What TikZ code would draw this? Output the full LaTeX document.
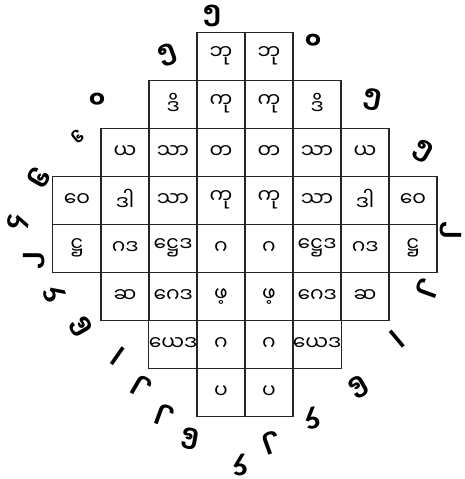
\documentclass[tikz,border=0pt]{standalone}
\usepackage{fontspec}
\newfontfamily\mya[Script=Myanmar]{Noto Sans Myanmar UI}
\begin{document}
\begin{tikzpicture}[
cell/.style={draw=black!85, line width=0.6pt, rectangle, minimum size=1cm, inner sep=0pt, font=\mya\fontsize{12}{14}\selectfont},
ring/.style={inner sep=0pt, font=\mya\bfseries\fontsize{14}{16}\selectfont},
stroke/.style={inner sep=0pt, scale=1.8, font=\mya\fontsize{14}{16}\selectfont}
]
\useasboundingbox (0,0) rectangle (9.667,-9.979);
% rows of the square, row r starts at column s
\foreach \txt [count=\i from 3] in {ဘု,ဘု}
  \node[cell] (r0c\i) at (\i+1.604,-1.167) {\txt};
\foreach \txt [count=\i from 2] in {ဒိ,ကု,ကု,ဒိ}
  \node[cell] (r1c\i) at (\i+1.604,-2.167) {\txt};
\foreach \txt [count=\i from 1] in {ယ,သာ,တ,တ,သာ,ယ}
  \node[cell] (r2c\i) at (\i+1.604,-3.167) {\txt};
\foreach \txt [count=\i from 0] in {ဝေ,ဒါ,သာ,ကု,ကု,သာ,ဒါ,ဝေ}
  \node[cell] (r3c\i) at (\i+1.604,-4.167) {\txt};
\foreach \txt [count=\i from 0] in {ဋ္ဌ,ဂဒ,ဋ္ဌေဒ,ဂ,ဂ,ဋ္ဌေဒ,ဂဒ,ဋ္ဌ}
  \node[cell] (r4c\i) at (\i+1.604,-5.167) {\txt};
\foreach \txt [count=\i from 1] in {ဆ,ဂေဒ,ဖ့,ဖ့,ဂေဒ,ဆ}
  \node[cell] (r5c\i) at (\i+1.604,-6.167) {\txt};
\foreach \txt [count=\i from 2] in {ယေဒ,ဂ,ဂ,ယေဒ}
  \node[cell] (r6c\i) at (\i+1.604,-7.167) {\txt};
\foreach \txt [count=\i from 3] in {ပ,ပ}
  \node[cell] (r7c\i) at (\i+1.604,-8.167) {\txt};

% figures round the square
\node[ring] (n1) at (4.417,-0.333) {၅};
\node[ring, rotate=20] (n2) at (3.5,-1.146) {၅};
\node[ring] (n3) at (6.521,-0.875) {၀};
\node[ring] (n4) at (2.021,-2.104) {၀};
\node[ring, rotate=-10] (n5) at (7.75,-2.083) {၅};
\node[ring, rotate=-30] (n6) at (8.813,-3.146) {၅};
\node[ring, rotate=40, scale=0.6] (n7) at (1.625,-2.854) {၆};
\node[ring, rotate=60] (n8) at (0.833,-3.708) {၆};
\node[ring, rotate=80] (n9) at (0.375,-4.625) {၄};
\node[ring, rotate=90] (n10) at (0.708,-5.438) {၂};
\node[ring, rotate=-90] (n11) at (9.4,-4.792) {၂};
\node[ring, rotate=-110] (n12) at (8.917,-6.0) {၂};
\node[ring, rotate=110] (n13) at (1.146,-6.125) {၄};
\node[ring, rotate=120] (n14) at (1.708,-6.792) {၆};
\node[stroke, rotate=-35] (n15) at (2.417,-7.479) {၊};
\node[stroke, rotate=40] (n16) at (8.313,-7.125) {၊};
\node[ring, rotate=150] (n17) at (2.958,-8.063) {၂};
\node[ring, rotate=160] (n18) at (3.438,-8.667) {၂};
\node[ring, rotate=170] (n19) at (3.958,-9.104) {၆};
\node[ring, rotate=180] (n20) at (5.0,-9.688) {၄};
\node[ring, rotate=-160] (n21) at (5.667,-9.229) {၂};
\node[ring, rotate=-170] (n22) at (6.5,-8.708) {၄};
\node[ring, rotate=-150] (n23) at (7.458,-8.042) {၆};
\end{tikzpicture}
\end{document}
